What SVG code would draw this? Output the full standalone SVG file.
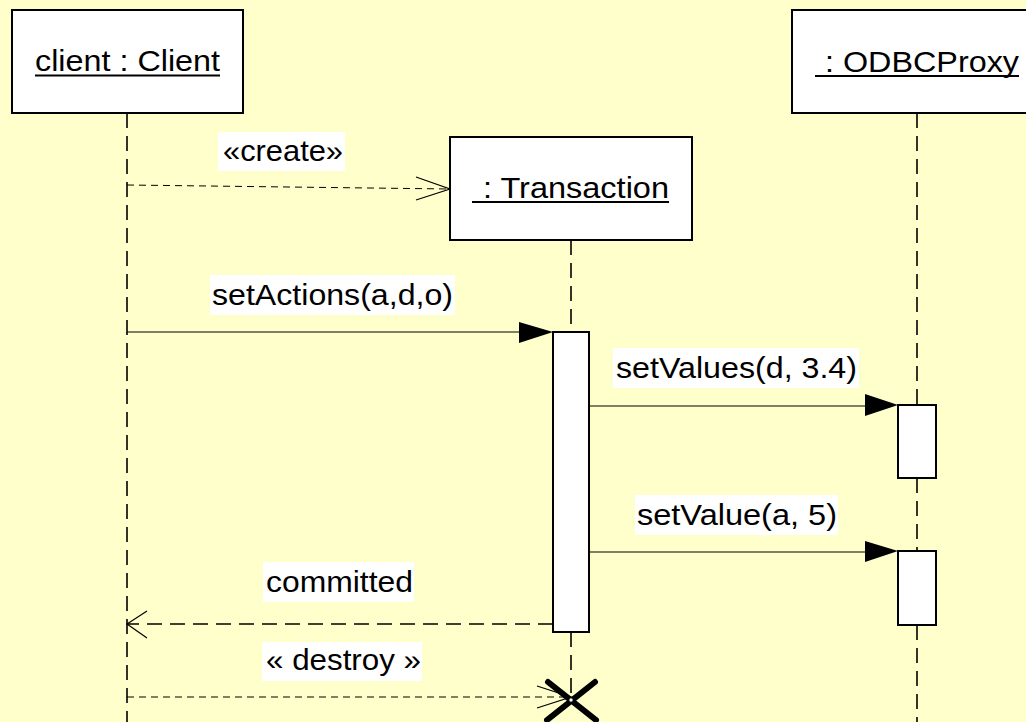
<svg xmlns="http://www.w3.org/2000/svg" width="1026" height="722" viewBox="0 0 1026 722">
<style>
.box{fill:#fff;stroke:#000;stroke-width:2}
.act{fill:#fff;stroke:#000;stroke-width:2}
.life{stroke:#000;stroke-width:1.6;stroke-dasharray:15 8;fill:none}
.msg{stroke:#000;stroke-width:1.2;fill:none}
.ret{stroke:#000;stroke-width:1.6;stroke-dasharray:15 8;fill:none}
.dash{stroke:#000;stroke-width:1;stroke-dasharray:7 5;fill:none}
.open{stroke:#000;stroke-width:1.2;fill:none}
.t{font-family:"Liberation Sans",Arial,sans-serif;font-size:29px;fill:#000}
.lbg{fill:#fff}
.ul{stroke:#000;stroke-width:2}
</style>
<rect width="1026" height="722" fill="#FFFFCC"/>
<g id="connectors">
<line class="life" x1="127" y1="113" x2="127" y2="722"/>
<line class="life" x1="571" y1="240" x2="571" y2="332"/>
<line class="life" x1="571" y1="632" x2="571" y2="700"/>
<line class="life" x1="917" y1="113" x2="917" y2="404"/>
<line class="life" x1="917" y1="478" x2="917" y2="551"/>
<line class="life" x1="917" y1="625" x2="917" y2="722"/>
<g id="msg-create">
<line class="dash" x1="127" y1="185" x2="450" y2="189"/>
<polyline class="open" points="416,177 450,189 416,200"/>
<rect class="lbg" x="218" y="132" width="127" height="39"/>
<text class="t" x="223" y="161" textLength="120" lengthAdjust="spacingAndGlyphs">«create»</text>
</g>
<g id="msg-setActions">
<line class="msg" x1="127" y1="332" x2="522" y2="332"/>
<polygon points="519,322 553,332 519,343" fill="#000"/>
<rect class="lbg" x="210" y="275" width="245" height="40"/>
<text class="t" x="212" y="305" textLength="241" lengthAdjust="spacingAndGlyphs">setActions(a,d,o)</text>
</g>
<g id="msg-setValues">
<line class="msg" x1="589" y1="406" x2="868" y2="406"/>
<polygon points="865,394 898,405 865,416" fill="#000"/>
<rect class="lbg" x="613" y="348" width="246" height="40"/>
<text class="t" x="616" y="378" textLength="241" lengthAdjust="spacingAndGlyphs">setValues(d, 3.4)</text>
</g>
<g id="msg-setValue">
<line class="msg" x1="589" y1="552" x2="868" y2="552"/>
<polygon points="865,541 898,551 865,562" fill="#000"/>
<rect class="lbg" x="635" y="495" width="203" height="40"/>
<text class="t" x="637" y="525" textLength="200" lengthAdjust="spacingAndGlyphs">setValue(a, 5)</text>
</g>
<g id="msg-committed">
<line class="ret" x1="553" y1="624" x2="128" y2="624"/>
<polyline class="open" points="147,611 127,624 147,638"/>
<rect class="lbg" x="263" y="562" width="151" height="40"/>
<text class="t" x="266" y="592" textLength="147" lengthAdjust="spacingAndGlyphs">committed</text>
</g>
<g id="msg-destroy">
<line class="dash" x1="127" y1="697" x2="571" y2="697"/>
<polyline class="open" points="537,686 571,697 537,708"/>
<rect class="lbg" x="262" y="642" width="160" height="39"/>
<text class="t" x="266" y="670" textLength="155" lengthAdjust="spacingAndGlyphs">« destroy »</text>
</g>
</g>
<g id="node-client">
<rect class="box" x="12" y="10" width="231" height="103"/>
<text class="t" x="35" y="71" textLength="185" lengthAdjust="spacingAndGlyphs">client : Client</text>
<line class="ul" x1="35" y1="75.5" x2="220" y2="75.5"/>
</g>
<g id="node-odbcproxy">
<rect class="box" x="792" y="10" width="240" height="103"/>
<text class="t" x="825" y="72" textLength="194" lengthAdjust="spacingAndGlyphs">: ODBCProxy</text>
<line class="ul" x1="815" y1="76" x2="1019" y2="76"/>
</g>
<g id="node-transaction">
<rect class="box" x="450" y="137" width="242" height="103"/>
<text class="t" x="483" y="198" textLength="186" lengthAdjust="spacingAndGlyphs">: Transaction</text>
<line class="ul" x1="472" y1="202" x2="669" y2="202"/>
</g>
<g id="activation-transaction">
<rect class="act" x="553" y="332" width="36" height="300"/>
</g>
<g id="activation-odbc-1">
<rect class="act" x="898" y="405" width="38" height="73"/>
</g>
<g id="activation-odbc-2">
<rect class="act" x="898" y="551" width="38" height="74"/>
</g>
<g id="destroy-mark">
<line x1="548" y1="682" x2="596" y2="720" stroke="#000" stroke-width="6" stroke-linecap="round"/>
<line x1="595" y1="682" x2="547" y2="720" stroke="#000" stroke-width="6" stroke-linecap="round"/>
<circle cx="571" cy="700" r="2.2" fill="#fff" stroke="#000" stroke-width="1"/>
</g>
</svg>
